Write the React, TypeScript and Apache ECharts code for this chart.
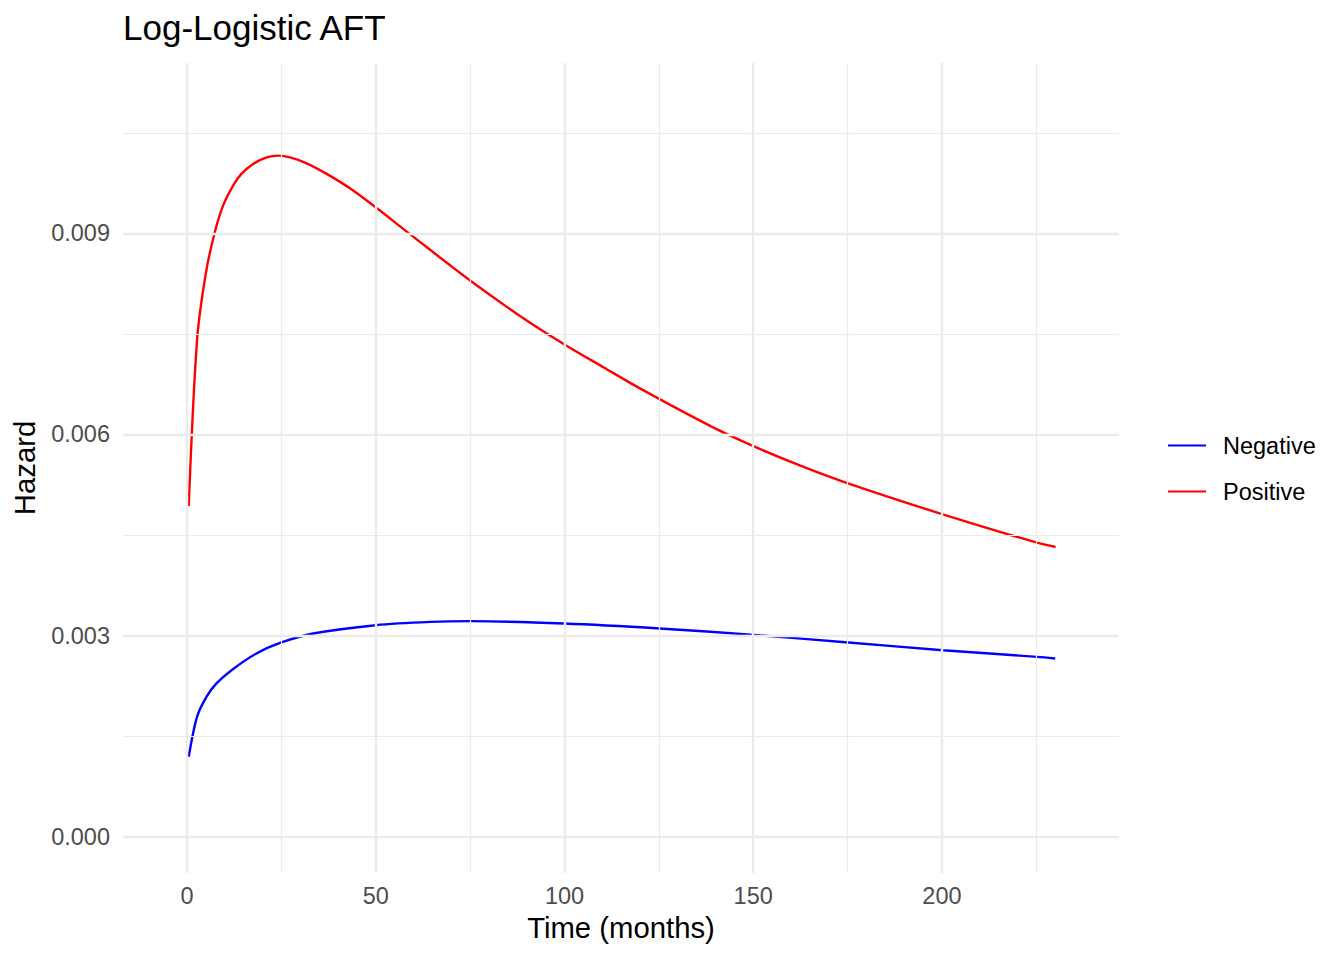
import React, { useEffect, useRef } from "react";
import * as echarts from "echarts";

// Negative group: time (months) and hazard
const negTime = [0.45, 2.65, 5.15, 7.8, 11.8, 18.4, 25, 33.4, 50, 64.4, 75.2, 100, 125.2, 150.2, 175.2, 200.2, 225.2, 230];
const negHazard = [0.001192, 0.001788, 0.002086, 0.002286, 0.002484, 0.002733, 0.002897, 0.003031, 0.003155, 0.003204, 0.003215, 0.00318, 0.003106, 0.00301, 0.002897, 0.002782, 0.002683, 0.002659];

// Positive group: time (months) and hazard
const posTime = [0.45, 2.65, 4.96, 7.35, 9.55, 12.2, 14.4, 17.5, 21.1, 24.2, 27.3, 31.7, 37.0, 44.1, 51.1, 58.8, 75, 88.3, 100, 110.4, 120.1, 138.7, 150.2, 162.5, 175.3, 200.2, 225.4, 230.1];
const posHazard = [0.004933, 0.007402, 0.008396, 0.009016, 0.009414, 0.009712, 0.009887, 0.010036, 0.010134, 0.01016, 0.010134, 0.010045, 0.009887, 0.009637, 0.00934, 0.009, 0.008296, 0.007765, 0.007343, 0.007, 0.006683, 0.006125, 0.005823, 0.005535, 0.005267, 0.004809, 0.004382, 0.004322];

const seriesNames = ["Negative", "Positive"];
const xMajorTicks = [0, 50, 100, 150, 200];
const xMinorTicks = [25, 75, 125, 175, 225];
const yMajorTicks = [0, 0.003, 0.006, 0.009];
const yMinorTicks = [0.0015, 0.0045, 0.0075, 0.0105];

const FONT = "'Liberation Sans', Arial, Helvetica, sans-serif";

export default function App() {
  const ref = useRef<HTMLDivElement>(null);

  useEffect(() => {
    if (!ref.current) return;
    const chart = echarts.init(ref.current, null, { renderer: "svg" });

    const gridMajor = { color: "#ebebeb", width: 2.4, type: "solid" };
    const gridMinor = { color: "#ebebeb", width: 1.2, type: "solid" };
    const gridLines = [
      ...xMinorTicks.map((v) => ({ xAxis: v, lineStyle: gridMinor })),
      ...yMinorTicks.map((v) => ({ yAxis: v, lineStyle: gridMinor })),
      ...xMajorTicks.map((v) => ({ xAxis: v, lineStyle: gridMajor })),
      ...yMajorTicks.map((v) => ({ yAxis: v, lineStyle: gridMajor })),
    ];

    chart.setOption({
      animation: false,
      backgroundColor: "#ffffff",
      textStyle: { fontFamily: FONT },
      title: {
        text: "Log-Logistic AFT",
        left: 123,
        top: 10.4,
        padding: 0,
        textStyle: { fontFamily: FONT, fontSize: 35, fontWeight: "normal", color: "#000000", lineHeight: 35 },
      },
      grid: { left: 123, top: 63, width: 996, height: 810, containLabel: false },
      xAxis: {
        type: "value",
        min: -16.96,
        max: 246.9,
        axisLine: { show: false },
        axisTick: { show: false },
        splitLine: { show: false },
        axisLabel: {
          customValues: xMajorTicks,
          margin: 11,
          fontSize: 23.5,
          color: "#4d4d4d",
          fontFamily: FONT,
        },
      },
      yAxis: {
        type: "value",
        min: -0.0005415,
        max: 0.011541,
        axisLine: { show: false },
        axisTick: { show: false },
        splitLine: { show: false },
        axisLabel: {
          customValues: yMajorTicks,
          margin: 13,
          fontSize: 23.5,
          color: "#4d4d4d",
          fontFamily: FONT,
          formatter: (v: number) => v.toFixed(3),
        },
      },
      legend: {
        data: seriesNames,
        orient: "vertical",
        left: 1167,
        top: 433.6,
        padding: 0,
        itemWidth: 38,
        itemHeight: 28,
        itemGap: 22,
        selectedMode: false,
        itemStyle: { opacity: 0 },
        textStyle: { fontFamily: FONT, fontSize: 23.5, color: "#000000", padding: [0, 0, 0, 12] },
      },
      graphic: [
        {
          type: "text",
          x: 621,
          y: 927,
          style: {
            text: "Time (months)",
            fontFamily: FONT,
            fontSize: 29.3,
            fill: "#000000",
            align: "center",
            verticalAlign: "middle",
          },
        },
        {
          type: "text",
          x: 24.5,
          y: 468,
          rotation: Math.PI / 2,
          style: {
            text: "Hazard",
            fontFamily: FONT,
            fontSize: 29.3,
            fill: "#000000",
            align: "center",
            verticalAlign: "middle",
          },
        },
      ],
      series: [
        {
          name: "grid",
          type: "line",
          z: 1,
          data: [[0, 0]],
          symbol: "none",
          lineStyle: { opacity: 0 },
          silent: true,
          markLine: {
            silent: true,
            precision: 8,
            symbol: ["none", "none"],
            label: { show: false },
            emphasis: { disabled: true },
            data: gridLines,
          },
        },
        {
          name: seriesNames[0],
          type: "line",
          z: 3,
          data: negTime.map((t, i) => [t, negHazard[i]]),
          symbol: "none",
          showSymbol: false,
          smooth: 0.3,
          lineStyle: { color: "#0000ff", width: 2.4 },
          itemStyle: { color: "#0000ff" },
        },
        {
          name: seriesNames[1],
          type: "line",
          z: 3,
          data: posTime.map((t, i) => [t, posHazard[i]]),
          symbol: "none",
          showSymbol: false,
          smooth: 0.3,
          lineStyle: { color: "#ff0000", width: 2.4 },
          itemStyle: { color: "#ff0000" },
        },
      ],
    });

    return () => chart.dispose();
  }, []);

  return (
    <div
      ref={ref}
      style={{ position: "fixed", left: 0, top: 0, width: 1344, height: 960 }}
    />
  );
}
